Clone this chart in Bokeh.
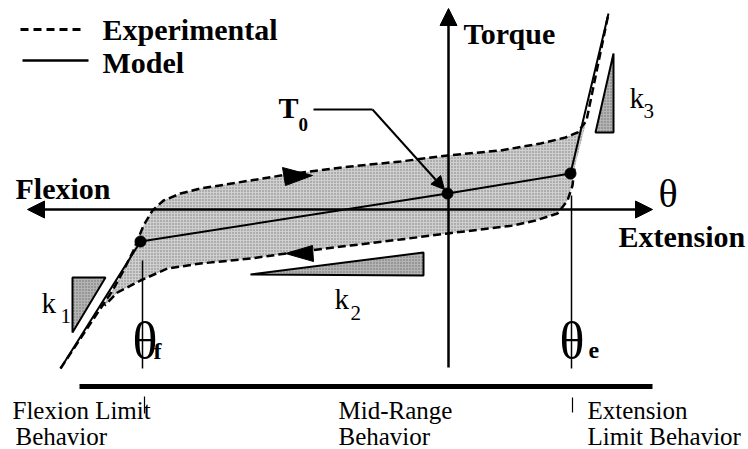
from bokeh.plotting import figure
from bokeh.models import Range1d, Arrow, NormalHead
from bokeh.core.properties import value
from bokeh.embed import file_html
from bokeh.resources import INLINE

# ---- schematic data (positions, in its pixel units) ----
model_x = [60, 140, 447, 570, 608]
model_y = [368, 241, 193, 173, 13]

upper_x = [60, 100, 112, 122, 133, 143, 152, 163, 180, 200, 250, 293, 350, 400, 447, 500, 540, 565, 577, 586, 608]
upper_y = [368, 308, 290, 272, 250, 225, 210, 200, 193, 188, 180, 173, 166, 161, 155, 150, 143, 137, 132, 120, 13]

lower_x = [574, 572, 567, 557, 535, 513, 480, 447, 400, 350, 300, 250, 200, 167, 140, 117, 104]
lower_y = [168, 185, 200, 213, 220, 225, 229, 233, 239, 245, 251, 258, 263, 268, 280, 292, 305]

dot_x = [140, 447, 570]
dot_y = [241, 193, 173]

k_tri_x = [[72, 105, 72], [250, 423, 423], [595, 613, 613]]
k_tri_y = [[277, 277, 332], [274, 252, 275], [132, 53, 132]]

loop_arrow_x = [[282, 312, 285], [285, 312, 313]]
loop_arrow_y = [[167, 175, 185], [253, 245, 261]]

limit_x = [142, 571]
limit_top = [260, 195]
limit_bottom = [368, 368]

bold_labels = ["Experimental", "Model", "Torque", "Flexion", "Extension", "T"]
bold_lx = [102, 102, 463, 15, 618, 278]
bold_ly = [29, 62, 33, 188, 236, 107]

region_labels = ["Flexion Limit", "Behavior", "Mid-Range", "Behavior", "Extension", "Limit Behavior"]
region_lx = [12, 15, 338, 338, 587, 587]
region_ly = [410, 436, 410, 436, 410, 436]

k_labels = ["k", "k", "k"]
k_lx = [41, 334, 629]
k_ly = [302, 298, 97]
k_subs = ["1", "2", "3"]
k_sx = [60, 350, 643]
k_sy = [315, 312, 110]

theta_subs = ["f", "e"]
theta_x = [132, 559]
theta_y = [340, 340]
theta_sx = [153, 588]
theta_sy = [350, 350]

SERIF = value("Liberation Serif")

p = figure(width=748, height=449, x_range=Range1d(0, 748), y_range=Range1d(449, 0),
           output_backend="svg", toolbar_location=None,
           x_axis_location=None, y_axis_location=None, min_border=0)
p.grid.visible = False
p.outline_line_color = None
p.background_fill_color = "white"

# hysteresis fill (stippled grey)
fill_x = upper_x[1:-1] + lower_x
fill_y = upper_y[1:-1] + lower_y
p.patch(fill_x, fill_y, fill_color="#cfcfcf", line_color=None,
        hatch_pattern="dot", hatch_color="#7a7a7a", hatch_scale=3, hatch_weight=1)

# axes
p.add_layout(Arrow(x_start=27, y_start=209, x_end=652, y_end=209, line_width=2.5,
                   start=NormalHead(size=17, fill_color="black", line_color="black"),
                   end=NormalHead(size=17, fill_color="black", line_color="black")))
p.add_layout(Arrow(x_start=448, y_start=367, x_end=448, y_end=8, line_width=2.5,
                   end=NormalHead(size=17, fill_color="black", line_color="black")))

# limit markers
p.segment(x0=limit_x, y0=limit_top, x1=limit_x, y1=limit_bottom, line_color="black", line_width=1.5)

# experimental (dashed) and model (solid)
p.line(upper_x, upper_y, line_color="black", line_width=2.5, line_dash="8 4")
p.line(lower_x, lower_y, line_color="black", line_width=2.5, line_dash="8 4")
p.line(model_x, model_y, line_color="black", line_width=2)
p.scatter(dot_x, dot_y, size=11, color="black")

# loop direction arrows
p.patches(loop_arrow_x, loop_arrow_y, fill_color="black", line_color="black")

# stiffness triangles
p.patches(k_tri_x, k_tri_y, fill_color="#b4b4b4", line_color="black", line_width=2,
          hatch_pattern="dot", hatch_color="#6a6a6a", hatch_scale=3, hatch_weight=1)

# T0 leader
p.line([313, 372], [109, 109], line_color="black", line_width=2)
p.add_layout(Arrow(x_start=372, y_start=109, x_end=444, y_end=189, line_width=2,
                   end=NormalHead(size=13, fill_color="black", line_color="black")))

# legend samples
p.line([20, 85], [29, 29], line_color="black", line_width=3, line_dash="8 5")
p.line([22, 88], [60, 60], line_color="black", line_width=2.5)

# bottom region bar
p.line([79, 652], [386, 386], line_color="black", line_width=5)
p.segment(x0=[144, 572], y0=[396, 397], x1=[144, 572], y1=[413, 412], line_color="black", line_width=1.2)

# texts
p.text(bold_lx, bold_ly, text=bold_labels, text_font=SERIF, text_font_style="bold",
       text_font_size="30px", text_baseline="middle", text_align="left", text_color="black")
p.text([298], [124], text=["0"], text_font=SERIF, text_font_style="bold",
       text_font_size="19px", text_baseline="middle", text_align="left")
p.text([658], [193], text=["θ"], text_font=SERIF, text_font_size="40px",
       text_baseline="middle", text_align="left")
p.text(region_lx, region_ly, text=region_labels, text_font=SERIF, text_font_size="25px",
       text_baseline="middle", text_align="left")
p.text(k_lx, k_ly, text=k_labels, text_font=SERIF, text_font_size="29px",
       text_baseline="middle", text_align="left")
p.text(k_sx, k_sy, text=k_subs, text_font=SERIF, text_font_size="21px",
       text_baseline="middle", text_align="left")
p.text(theta_x, theta_y, text=["θ", "θ"], text_font=SERIF,
       text_font_size="52px", text_baseline="middle", text_align="left")
p.text(theta_sx, theta_sy, text=theta_subs, text_font=SERIF, text_font_style="bold",
       text_font_size="24px", text_baseline="middle", text_align="left")

open("out.html", "w").write(file_html(p, INLINE))
